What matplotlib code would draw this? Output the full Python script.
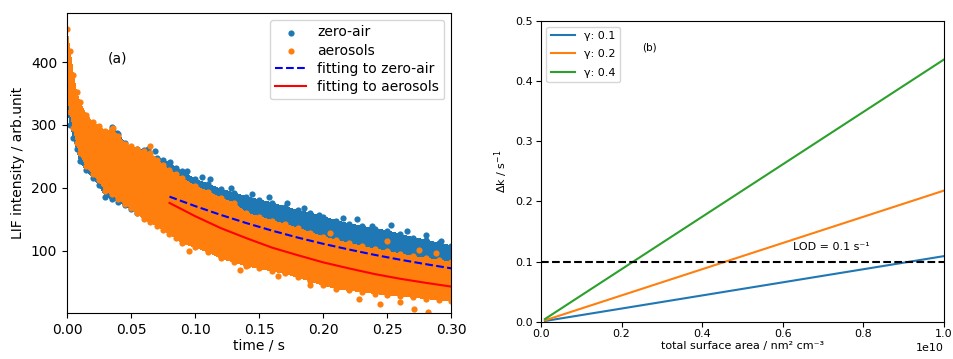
import matplotlib
matplotlib.use('Agg')
import matplotlib.pyplot as plt

t_edge = [0.000, 0.0025, 0.005, 0.0075, 0.010, 0.015, 0.020, 0.025, 0.030, 0.035,
          0.040, 0.045, 0.050, 0.055, 0.060, 0.065, 0.070, 0.075, 0.080, 0.085,
          0.090, 0.100, 0.110, 0.120, 0.130, 0.140, 0.150, 0.160, 0.170, 0.180,
          0.190, 0.200, 0.210, 0.220, 0.230, 0.240, 0.250, 0.260, 0.270, 0.280,
          0.290, 0.300]
aer_hi = [452, 418, 380, 352, 336, 316, 305, 298, 290, 293,
          283, 270, 266, 262, 258, 255, 245, 236, 228, 222,
          215, 203, 194, 184, 176, 160, 154, 148, 142, 136,
          129, 122, 117, 112, 107, 103, 99, 95, 91, 88,
          85, 82]
aer_lo = [350, 320, 295, 272, 255, 235, 222, 212, 195, 190,
          182, 175, 168, 160, 150, 145, 140, 133, 127, 120,
          112, 106, 98, 88, 82, 76, 72, 68, 64, 58,
          52, 45, 40, 37, 35, 32, 30, 28, 26, 24,
          22, 20]
air_hi = [350, 340, 330, 320, 310, 300, 290, 285, 282, 296,
          285, 272, 262, 262, 260, 250, 248, 244, 240, 232,
          226, 214, 206, 198, 192, 186, 181, 176, 170, 164,
          160, 154, 148, 143, 139, 135, 132, 126, 121, 117,
          112, 108]
air_lo = [330, 300, 280, 262, 242, 228, 216, 205, 186, 182,
          178, 172, 166, 160, 155, 150, 146, 140, 135, 130,
          126, 120, 114, 108, 102, 97, 92, 88, 84, 80,
          76, 72, 69, 66, 63, 60, 58, 56, 54, 52,
          50, 48]

# single stray points
air_t_out = [0.039, 0.063, 0.069, 0.0805, 0.0935, 0.1116, 0.144, 0.197, 0.253, 0.292,
             0.128, 0.172, 0.226, 0.105, 0.158, 0.185, 0.215, 0.238, 0.265, 0.28]
air_y_out = [287, 262, 258, 241, 226, 214, 190, 157, 141, 115,
             200, 176, 150, 218, 185, 168, 152, 140, 132, 125]
aer_t_out = [0.036, 0.0535, 0.065, 0.1415, 0.244, 0.271, 0.282, 0.205, 0.250, 0.275,
             0.288, 0.119, 0.165, 0.095, 0.135, 0.19, 0.228, 0.26]
aer_y_out = [295, 260, 266, 77, 16, 8, 3, 128, 115, 101,
             96, 98, 60, 100, 70, 45, 24, 18]

# fitted curves
fit_t = [0.08, 0.10, 0.12, 0.14, 0.16, 0.18, 0.20, 0.22, 0.24, 0.26, 0.28, 0.30]
fit_air = [186, 171, 157, 144, 132, 121, 111, 102, 93.5, 85.8, 78.7, 72]
fit_aer = [176, 155, 136, 120, 105, 93, 81.5, 72, 63, 55.5, 49, 43]

# panel (b)
area = [1e8, 1e10]
gammas = ['0.1', '0.2', '0.4']
dk = {'0.1': [0.0011, 0.109], '0.2': [0.0022, 0.218], '0.4': [0.0044, 0.436]}
lod = 0.1

blue = '#1f77b4'
orange = '#ff7f0e'


def cloud(ax, lo, hi, col):
    # solid core of the cloud + the ragged edge points
    ax.fill(t_edge + t_edge[::-1], lo + hi[::-1], color=col, lw=0, antialiased=False)
    ax.scatter(t_edge, hi, s=20, color=col, lw=0)
    ax.scatter(t_edge, lo, s=20, color=col, lw=0)


fig = plt.figure(figsize=(9.54, 3.59), dpi=100)

ax1 = fig.add_axes([0.0702, 0.128, 0.403, 0.836])
cloud(ax1, air_lo, air_hi, blue)
ax1.scatter(air_t_out, air_y_out, s=20, color=blue, lw=0, label='zero-air')
cloud(ax1, aer_lo, aer_hi, orange)
ax1.scatter(aer_t_out, aer_y_out, s=20, color=orange, lw=0, label='aerosols')
ax1.plot(fit_t, fit_air, 'b--', lw=1.5, label='fitting to zero-air')
ax1.plot(fit_t, fit_aer, 'r-', lw=1.5, label='fitting to aerosols')
ax1.set_xlim(0, 0.30)
ax1.set_ylim(1, 478)
ax1.set_yticks([100, 200, 300, 400])
ax1.set_xticks([0, 0.05, 0.10, 0.15, 0.20, 0.25, 0.30])
ax1.set_xticklabels(['0.00', '0.05', '0.10', '0.15', '0.20', '0.25', '0.30'])
ax1.tick_params(labelsize=10)
ax1.set_xlabel('time / s', fontsize=10, labelpad=1)
ax1.set_ylabel('LIF intensity / arb.unit', fontsize=10)
ax1.text(0.032, 405, '(a)', fontsize=10, va='center')
ax1.legend(loc='upper right', fontsize=10, labelspacing=0.3, handlelength=2.2)

ax2 = fig.add_axes([0.567, 0.104, 0.4225, 0.8375])
for g in gammas:
    ax2.plot(area, dk[g], lw=1.5, label='\u03b3: ' + g)
ax2.axhline(lod, color='k', ls='--', lw=1.5)
ax2.set_xlim(0, 1e10)
ax2.set_ylim(0, 0.5)
ax2.tick_params(labelsize=8, pad=2)
ax2.xaxis.get_offset_text().set_fontsize(8)
ax2.set_xlabel('total surface area / nm\u00b2 cm\u207b\u00b3', fontsize=8, labelpad=1)
ax2.set_ylabel('\u0394k / s$^{-1}$', fontsize=8)
ax2.text(0.625e10, 0.124, 'LOD = 0.1 s\u207b\u00b9', fontsize=8, va='center')
ax2.text(0.27e10, 0.456, '(b)', fontsize=7.5, ha='center', va='center')
ax2.legend(loc='upper left', fontsize=8, labelspacing=0.75, handlelength=2.2)

fig.savefig('out.png', dpi=100)
